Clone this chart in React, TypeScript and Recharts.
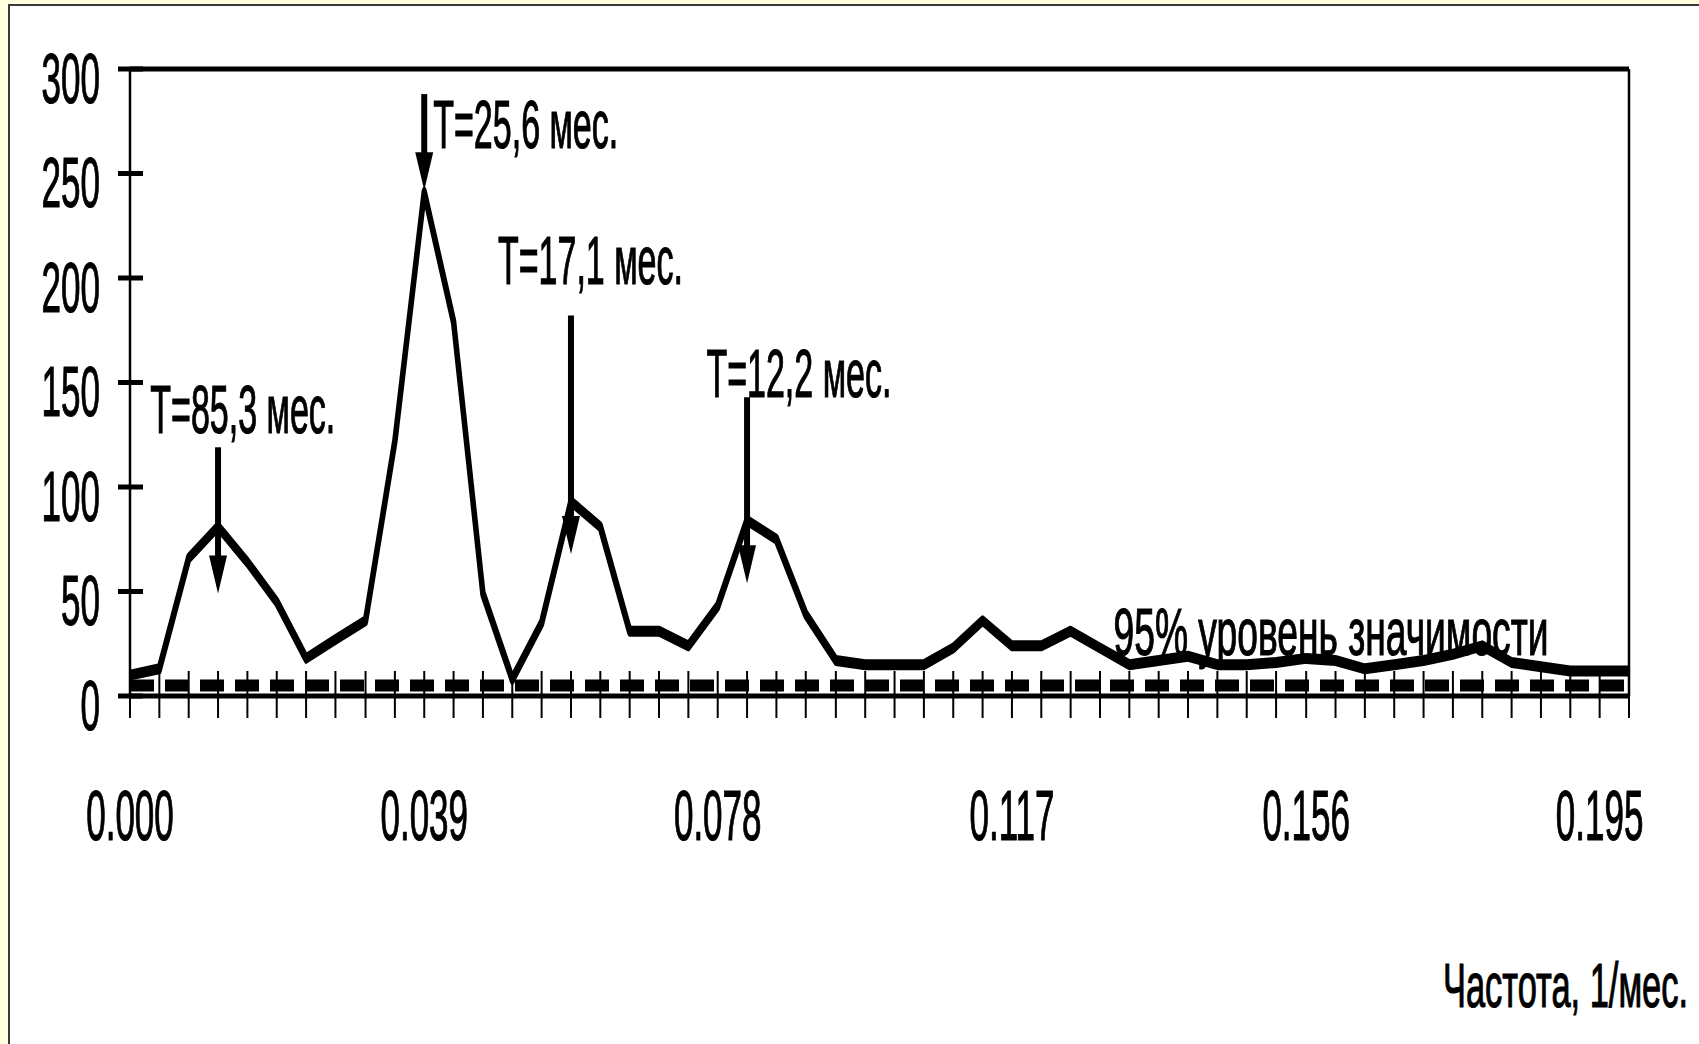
import React from 'react';
import {
  LineChart,
  Line,
  XAxis,
  YAxis,
  ReferenceLine,
  ReferenceDot,
} from 'recharts';

// Periodogram: frequency (1/month) vs spectral power
const frequency = [
  0.0, 0.0039, 0.0078, 0.0117, 0.0156, 0.0195, 0.0234, 0.0273, 0.0313, 0.0352,
  0.0391, 0.043, 0.0469, 0.0508, 0.0547, 0.0586, 0.0625, 0.0664, 0.0703, 0.0742,
  0.0781, 0.082, 0.0859, 0.0898, 0.0938, 0.0977, 0.1016, 0.1055, 0.1094, 0.1133,
  0.1172, 0.1211, 0.125, 0.1289, 0.1328, 0.1367, 0.1406, 0.1445, 0.1484, 0.1523,
  0.1563, 0.1602, 0.1641, 0.168, 0.1719, 0.1758, 0.1797, 0.1836, 0.1875, 0.1914,
  0.1953, 0.1992,
];

const power = [
  10, 13, 66, 81, 64, 45, 18, 27, 36, 122,
  241, 179, 49, 8, 35, 93, 81, 31, 31, 24,
  43, 84, 75, 39, 17, 15, 15, 15, 23, 36,
  24, 24, 31, 23, 15, 17, 19, 15, 15, 16,
  18, 17, 13, 15, 17, 20, 24, 16, 14, 12,
  12, 12,
];

const xTickLabels = ['0.000', '0.039', '0.078', '0.117', '0.156', '0.195'];
const yTicks = [0, 50, 100, 150, 200, 250, 300];

// 95% significance level
const significance95 = 5;
const significanceLabel = '95% уровень значимости';
const axisTitle = 'Частота, 1/мес.';

// peak annotations: arrow at the peak frequency, caption placed above
const peaks = [
  { label: 'T=85,3 мес.', f: 0.0117, arrowTop: 119, arrowTip: 49, textF: 0.0027, textY: 126 },
  { label: 'T=25,6 мес.', f: 0.0391, arrowTop: 288, arrowTip: 242, textF: 0.0403, textY: 262 },
  { label: 'T=17,1 мес.', f: 0.0586, arrowTop: 182, arrowTip: 68, textF: 0.0489, textY: 197 },
  { label: 'T=12,2 мес.', f: 0.082, arrowTop: 143, arrowTip: 54, textF: 0.0766, textY: 143 },
];

const data = frequency.map((f, i) => ({ f, p: power[i] }));

// the original slide is squeezed horizontally; draw wide and compress
const SQUEEZE = 0.5;
const W = 1699;
const H = 1044;
const FONT = "'Liberation Sans', Arial, sans-serif";

// slightly heavier glyphs, like the bitmap text of the slide
const textStyle = {
  fontFamily: FONT,
  fill: '#000',
  stroke: '#000',
  strokeWidth: 1.2,
};

const XTick = (props: any) => {
  const { x, y, index } = props;
  return (
    <g>
      <line x1={x} x2={x} y1={y - 25} y2={y + 22} stroke="#000" strokeWidth={4} />
      {index % 10 === 0 && (
        <text x={x} y={y + 144} textAnchor="middle" fontSize={70} {...textStyle}>
          {xTickLabels[index / 10]}
        </text>
      )}
    </g>
  );
};

const YTick = (props: any) => {
  const { x, y, payload } = props;
  return (
    <g>
      <line x1={x - 24} x2={x + 26} y1={y} y2={y} stroke="#000" strokeWidth={5} />
      <text x={x - 60} y={y + 34} textAnchor="end" fontSize={70} {...textStyle}>
        {payload.value}
      </text>
    </g>
  );
};

const AxisTitle = (props: any) => {
  const { viewBox } = props;
  return (
    <text
      x={viewBox.x + viewBox.width - 372}
      y={viewBox.y + 311}
      fontSize={63}
      {...textStyle}
      textLength={490}
      lengthAdjust="spacingAndGlyphs"
    >
      {axisTitle}
    </text>
  );
};

const ArrowHead = (props: any) => {
  const { cx, cy } = props;
  return <path d={`M${cx - 18},${cy - 38} L${cx + 18},${cy - 38} L${cx},${cy} Z`} fill="#000" />;
};

const Caption = (text: string, fontSize: number, length?: number) => (props: any) => (
  <text
    x={props.cx}
    y={props.cy}
    fontSize={fontSize}
    {...textStyle}
    textLength={length}
    lengthAdjust={length ? 'spacingAndGlyphs' : undefined}
  >
    {text}
  </text>
);

export default function App() {
  return (
    <div
      style={{
        position: 'absolute',
        left: 0,
        top: 0,
        width: W,
        height: H,
        background: '#FFFFDD',
        overflow: 'hidden',
      }}
    >
      <div
        style={{
          position: 'absolute',
          left: 8,
          top: 4,
          right: 0,
          bottom: 0,
          background: '#fff',
          borderLeft: '2.5px solid #3a3a3a',
          borderTop: '2px solid #3a3a3a',
        }}
      />
      <div
        style={{
          position: 'absolute',
          left: 0,
          top: 0,
          width: W / SQUEEZE,
          height: H,
          transform: `scaleX(${SQUEEZE})`,
          transformOrigin: '0 0',
        }}
      >
        <LineChart
          width={W / SQUEEZE}
          height={H}
          data={data}
          margin={{ top: 69, right: 140, bottom: 288, left: 160 }}
        >
          <XAxis
            dataKey="f"
            type="number"
            domain={['dataMin', 'dataMax']}
            ticks={frequency}
            interval={0}
            height={60}
            tickSize={0}
            tickMargin={0}
            tickLine={false}
            axisLine={{ stroke: '#000', strokeWidth: 5 }}
            tick={<XTick />}
            label={{ content: <AxisTitle /> }}
          />
          <YAxis
            type="number"
            domain={[0, 300]}
            ticks={yTicks}
            interval={0}
            width={100}
            tickSize={0}
            tickMargin={0}
            tickLine={false}
            axisLine={{ stroke: '#000', strokeWidth: 5 }}
            tick={<YTick />}
          />
          <ReferenceLine y={300} stroke="#000" strokeWidth={5} />
          <ReferenceLine x={frequency[frequency.length - 1]} stroke="#000" strokeWidth={5} />
          <ReferenceLine
            y={significance95}
            stroke="#000"
            strokeWidth={12}
            strokeDasharray="48 22"
          />
          <Line
            dataKey="p"
            type="linear"
            stroke="#000"
            strokeWidth={11}
            strokeLinejoin="round"
            dot={false}
            activeDot={false}
            isAnimationActive={false}
          />
          {peaks.map((pk) => (
            <ReferenceLine
              key={`shaft-${pk.label}`}
              segment={[
                { x: pk.f, y: pk.arrowTop },
                { x: pk.f, y: pk.arrowTip + 10 },
              ]}
              stroke="#000"
              strokeWidth={12}
            />
          ))}
          {peaks.map((pk) => (
            <ReferenceDot
              key={`head-${pk.label}`}
              x={pk.f}
              y={pk.arrowTip}
              r={0}
              shape={<ArrowHead />}
            />
          ))}
          {peaks.map((pk) => (
            <ReferenceDot
              key={`text-${pk.label}`}
              x={pk.textF}
              y={pk.textY}
              r={0}
              shape={Caption(pk.label, 68)}
            />
          ))}
          <ReferenceDot
            x={0.1307}
            y={19.6}
            r={0}
            shape={Caption(significanceLabel, 67, 870)}
          />
        </LineChart>
      </div>
    </div>
  );
}
